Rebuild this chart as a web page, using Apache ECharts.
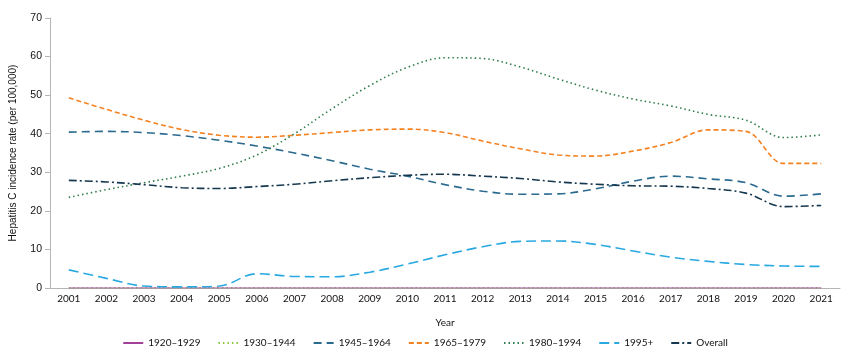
<!DOCTYPE html>
<html>
<head>
<meta charset="utf-8">
<script src="https://cdn.jsdelivr.net/npm/echarts@6/dist/echarts.min.js"></script>
<style>html,body{margin:0;padding:0;background:#fff;}#c{width:850px;height:361px;}</style>
</head>
<body>
<div id="c"></div>
<script>
const years = ['2001','2002','2003','2004','2005','2006','2007','2008','2009','2010','2011','2012','2013','2014','2015','2016','2017','2018','2019','2020','2021'];
const s1920 = [0,0,0,0,0,0,0,0,0,0,0,0,0,0,0,0,0,0,0,0,0];
const s1930 = [0,0,0,0,0,0,0,0,0,0,0,0,0,0,0,0,0,0,0,0,0];
const s1945 = [40.4,40.6,40.3,39.5,38.3,36.8,35.0,33.0,30.8,29.0,26.8,25.1,24.3,24.4,25.7,27.7,29.0,28.3,27.3,23.8,24.4];
const s1965 = [49.3,46.3,43.5,41.1,39.6,39.1,39.6,40.3,41.0,41.2,40.3,38.1,36.1,34.5,34.2,35.5,37.7,41.0,40.6,32.3,32.3];
const s1980 = [23.5,25.5,27.3,29.0,31.0,34.5,40.0,46.5,52.5,57.2,59.7,59.5,57.3,54.2,51.3,49.0,47.2,45.0,43.5,39.0,39.7];
const s1995 = [4.7,2.5,0.5,0.3,0.5,3.7,3.0,2.9,4.1,6.2,8.6,10.7,12.1,12.2,11.3,9.6,8.0,6.9,6.1,5.7,5.6];
const sOverall = [27.9,27.5,26.8,26.0,25.8,26.3,26.9,27.8,28.6,29.2,29.5,29.0,28.4,27.5,26.9,26.5,26.4,25.8,24.6,21.1,21.4];

function ser(name, data, color, type, width) {
  return {
    name, type: 'line', data, smooth: 0.35, symbol: 'none',
    lineStyle: { color, width: width || 1.6, type },
    itemStyle: { color }
  };
}
const chart = echarts.init(document.getElementById('c'));
chart.setOption({
  animation: false,
  textStyle: { fontFamily: 'Lato, sans-serif' },
  grid: { left: 49, right: 10, top: 18, bottom: 73 },
  legend: {
    bottom: 8, left: 'center', itemWidth: 20, itemHeight: 8, itemGap: 17,
    itemStyle: { opacity: 0 },
    lineStyle: { width: 2 },
    textStyle: { fontSize: 10, color: '#111', fontFamily: 'Lato, sans-serif' },
    data: ['1920–1929','1930–1944','1945–1964','1965–1979','1980–1994','1995+','Overall']
  },
  xAxis: {
    type: 'category', data: years, boundaryGap: true,
    name: 'Year', nameLocation: 'middle', nameGap: 30,
    nameTextStyle: { fontSize: 10, color: '#111', fontFamily: 'Lato, sans-serif' },
    axisLine: { lineStyle: { color: '#b5b5b5' } },
    axisTick: { lineStyle: { color: '#b5b5b5' }, length: 5 },
    axisLabel: { fontSize: 10, color: '#111', margin: 6, fontFamily: 'Lato, sans-serif' }
  },
  yAxis: {
    type: 'value', min: 0, max: 70, interval: 10,
    name: 'Hepatitis C incidence rate (per 100,000)', nameLocation: 'middle', nameGap: 32,
    nameTextStyle: { fontSize: 10, color: '#111', fontFamily: 'Liberation Sans, Arial, sans-serif' },
    axisLine: { show: true, lineStyle: { color: '#b5b5b5' } },
    axisTick: { show: true, lineStyle: { color: '#b5b5b5' }, length: 5 },
    splitLine: { show: false },
    axisLabel: { fontSize: 10.5, color: '#111', margin: 8, fontFamily: 'Liberation Sans, Arial, sans-serif' }
  },
  series: [
    ser('1930–1944', s1930, '#8cc63f', [1.5, 3]),
    ser('1920–1929', s1920, '#a2419a', 'solid', 1.2),
    ser('1945–1964', s1945, '#2b6a8f', [8, 5]),
    ser('1965–1979', s1965, '#f58220', [5, 3]),
    ser('1980–1994', s1980, '#2f7d4a', [1.5, 3]),
    ser('1995+', s1995, '#29a9e1', [10, 5]),
    ser('Overall', sOverall, '#16384f', [8, 3, 2, 3])
  ]
});
</script>
</body>
</html>
